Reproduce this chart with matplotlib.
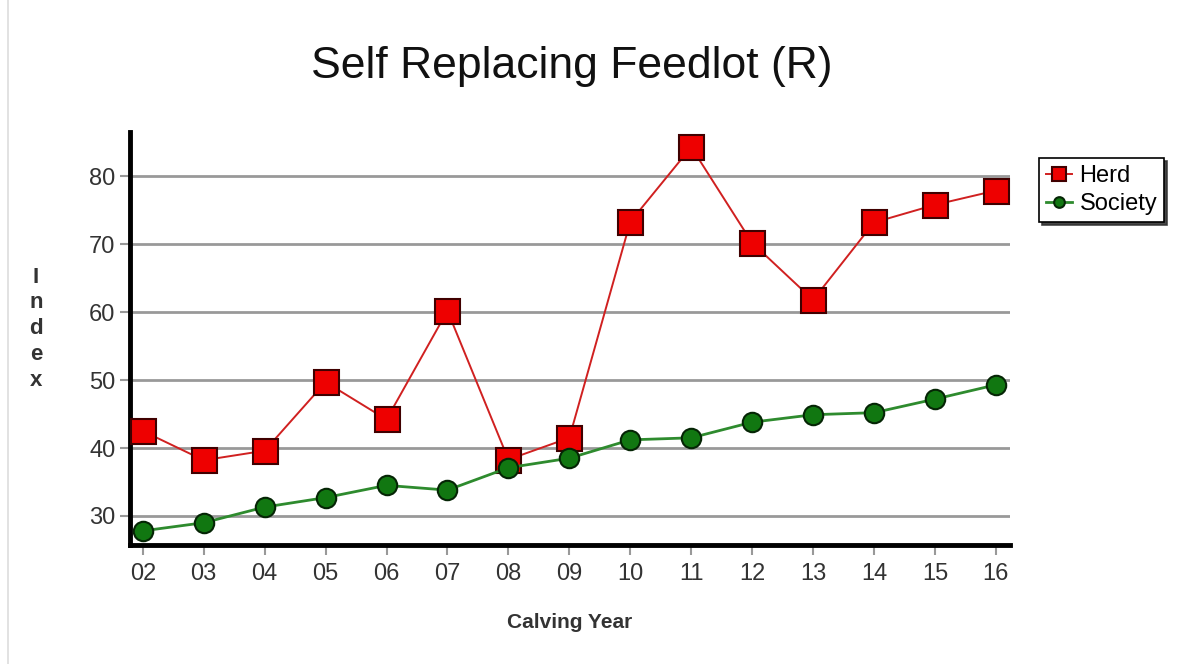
import matplotlib.pyplot as plt
from matplotlib.lines import Line2D

years = ["02", "03", "04", "05", "06", "07", "08", "09", "10", "11", "12", "13", "14", "15", "16"]
herd = [42.5, 38.2, 39.6, 49.7, 44.2, 60.2, 38.3, 41.5, 73.3, 84.3, 70.2, 61.8, 73.2, 75.8, 77.9]
society = [27.8, 29.0, 31.3, 32.7, 34.5, 33.8, 37.1, 38.5, 41.2, 41.5, 43.8, 44.9, 45.2, 47.2, 49.3]

plt.rcParams["font.family"] = ["Liberation Sans", "DejaVu Sans"]

fig = plt.figure(figsize=(11.98, 6.64), dpi=100)
ax = fig.add_axes([0.1085, 0.179, 0.7345, 0.622])

x = list(range(len(years)))
ax.plot(x, herd, color="#d02020", lw=1.4, marker="s", ms=18,
        markerfacecolor="#ee0000", markeredgecolor="#400000", mew=1.5, label="Herd", zorder=3)
ax.plot(x, society, color="#2e8b2e", lw=2, marker="o", ms=14,
        markerfacecolor="#117711", markeredgecolor="#052505", mew=1.5, label="Society", zorder=3)

ax.set_xlim(-0.21, 14.23)
ax.set_ylim(25.7, 86.5)
ax.set_xticks(x)
ax.set_xticklabels(years)
ax.set_yticks([30, 40, 50, 60, 70, 80])
ax.yaxis.grid(True, color="#999999", lw=2)
ax.set_axisbelow(True)

for s in ["top", "right"]:
    ax.spines[s].set_visible(False)
for s in ["left", "bottom"]:
    ax.spines[s].set_linewidth(3.5)
    ax.spines[s].set_color("black")

ax.tick_params(axis="both", colors="#999999", labelcolor="#333333", labelsize=17, length=7, width=1.5)
ax.tick_params(axis="x", pad=6)

ax.set_xlabel("Calving Year", fontsize=15, fontweight="bold", color="#333333", labelpad=20)
fig.text(0.03, 0.505, "I\nn\nd\ne\nx", fontsize=16, fontweight="bold", color="#333333",
         ha="center", va="center", linespacing=1.3)
fig.text(0.4775, 0.9, "Self Replacing Feedlot (R)", fontsize=32, color="#111111",
         ha="center", va="center")

leg = ax.legend(loc="upper left", bbox_to_anchor=(1.02, 0.965), fontsize=17, frameon=True,
                fancybox=False, shadow={"color": "#333333", "alpha": 0.9}, handlelength=1.1,
                handletextpad=0.3, borderpad=0.3, labelspacing=0.25, markerscale=0.55)
leg.get_frame().set_edgecolor("black")
leg.get_frame().set_linewidth(1.2)

fig.add_artist(Line2D([0.007, 0.007], [0, 1], color="#dddddd", lw=1.2))

fig.savefig("out.png", dpi=100)
